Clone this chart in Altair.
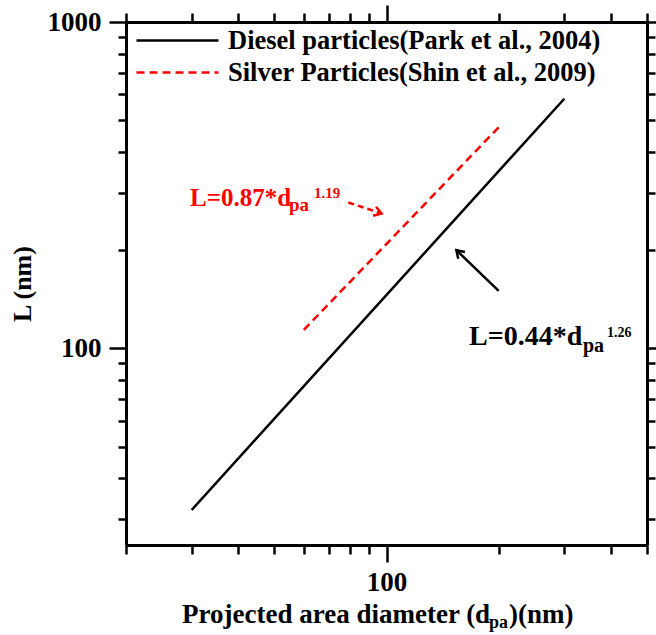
import altair as alt
import pandas as pd

# ---- data ----
series_names = ["Diesel particles(Park et al., 2004)", "Silver Particles(Shin et al., 2009)"]
diesel_dpa = [30, 300]
diesel_L = [32, 582]
silver_dpa = [60, 200]
silver_L = [114, 476]

x_ticks = [20, 30, 40, 50, 60, 70, 80, 90, 100, 200, 300, 400, 500]
y_ticks = [30, 40, 50, 60, 70, 80, 90, 100, 200, 300, 400, 500, 600, 700, 800, 900, 1000]
x_domain = [20, 500]
y_domain = [25, 1000]

# annotation arrows (tail -> tip), in data units
black_arrow_x = [200, 154]
black_arrow_y = [150, 200]
red_arrow_x = [79, 97]
red_arrow_y = [280, 259]

eq_red = ["L=0.87*d", "pa", "1.19"]
eq_black = ["L=0.44*d", "pa", "1.26"]
x_title_parts = ["Projected area diameter (d", "pa", ")(nm)"]
y_title = "L (nm)"

FONT = "Liberation Serif"
W, H = 521, 523

diesel_df = pd.DataFrame({"series": [series_names[0]] * len(diesel_dpa),
                          "dpa": diesel_dpa, "L": diesel_L})
silver_df = pd.DataFrame({"series": [series_names[1]] * len(silver_dpa),
                          "dpa": silver_dpa, "L": silver_L})

xs = alt.Scale(type="log", domain=x_domain, nice=False)
ys = alt.Scale(type="log", domain=y_domain, nice=False)

major_test_x = "datum.value == 100"
major_test_y = "datum.value == 100 || datum.value == 1000"

common_axis = dict(
    grid=False, domainColor="black", domainWidth=3, tickColor="black", tickWidth=2.5,
    labelFont=FONT, labelFontSize=27, labelFontWeight="bold", labelColor="black",
    labelOverlap=False, labelFlush=False,
    titleFont=FONT, titleFontSize=26, titleFontWeight="bold", titleColor="black",
)

x_bottom = alt.Axis(
    orient="bottom", values=x_ticks, title=None,
    labelExpr="datum.value == 100 ? '100' : ''",
    tickSize={"condition": {"test": major_test_x, "value": 17}, "value": 9},
    labelPadding=7, **common_axis)
x_top = alt.Axis(
    orient="top", values=x_ticks, title=None, labels=False,
    tickSize={"condition": {"test": major_test_x, "value": 17}, "value": 9},
    **common_axis)
y_left = alt.Axis(
    orient="left", values=y_ticks, title=y_title,
    labelExpr="(datum.value == 100 || datum.value == 1000) ? format(datum.value, 'd') : ''",
    tickSize={"condition": {"test": major_test_y, "value": 17}, "value": 8},
    labelPadding=8, titlePadding=12, **common_axis)
y_right = alt.Axis(
    orient="right", values=y_ticks, title=None, labels=False,
    tickSize={"condition": {"test": major_test_y, "value": 17}, "value": 8},
    **common_axis)

legend_common = dict(
    title=None, orient="none", legendX=9,
    symbolType="stroke", symbolSize=6724, symbolStrokeWidth=2.5,
    labelFont=FONT, labelFontSize=26.5, labelFontWeight="bold",
    labelColor="black", labelLimit=0, labelOffset=8, padding=0)

diesel_line = alt.Chart(diesel_df).mark_line(strokeWidth=2.5).encode(
    x=alt.X("dpa:Q", scale=xs, axis=x_bottom),
    y=alt.Y("L:Q", scale=ys, axis=y_left),
    color=alt.Color("series:N", scale=alt.Scale(domain=[series_names[0]], range=["black"]),
                    legend=alt.Legend(legendY=-24, symbolStrokeColor="black", **legend_common)),
)

silver_line = alt.Chart(silver_df).mark_line(strokeWidth=2.5, color="red").encode(
    x=alt.X("dpa:Q", scale=xs, axis=None),
    y=alt.Y("L:Q", scale=ys, axis=None),
    strokeDash=alt.StrokeDash("series:N",
                              scale=alt.Scale(domain=[series_names[1]], range=[[8, 5]]),
                              legend=alt.Legend(legendY=8, symbolStrokeColor="red", **legend_common)),
)

ghost = alt.Chart(diesel_df).mark_point(opacity=0).encode(
    x=alt.X("dpa:Q", scale=xs, axis=x_top),
    y=alt.Y("L:Q", scale=ys, axis=y_right),
)

black_arrow_df = pd.DataFrame({"x": [black_arrow_x[0]], "y": [black_arrow_y[0]],
                               "x2": [black_arrow_x[1]], "y2": [black_arrow_y[1]]})
red_arrow_df = pd.DataFrame({"x": [red_arrow_x[0]], "y": [red_arrow_y[0]],
                             "x2": [red_arrow_x[1]], "y2": [red_arrow_y[1]]})

def arrow(df, color, dash, angle):
    shaft = alt.Chart(df).mark_rule(color=color, strokeWidth=2.5, **({"strokeDash": dash} if dash else {})).encode(
        x=alt.X("x:Q", scale=xs, axis=None), y=alt.Y("y:Q", scale=ys, axis=None),
        x2="x2:Q", y2="y2:Q")
    head = alt.Chart(df).mark_point(
        shape="M -0.55 0.85 L 0 0 L 0.55 0.85", filled=False, color=color,
        strokeWidth=2.5, size=300, angle=angle, opacity=1).encode(
        x=alt.X("x2:Q", scale=xs, axis=None), y=alt.Y("y2:Q", scale=ys, axis=None))
    return shaft + head

def txt(s, x, y, size, color="black"):
    return alt.Chart(pd.DataFrame({"t": [s]})).mark_text(
        align="left", baseline="alphabetic", font=FONT, fontSize=size,
        fontWeight="bold", color=color).encode(
        x=alt.value(x), y=alt.value(y), text="t:N")

texts = [
    txt(eq_red[0], 64, 184, 25, "red"),
    txt(eq_red[1], 163, 189, 19, "red"),
    txt(eq_red[2], 188, 176, 15, "red"),
    txt(eq_black[0], 343, 323, 28),
    txt(eq_black[1], 457, 330, 20),
    txt(eq_black[2], 481, 315, 14),
    txt(x_title_parts[0], 56, 601, 27),
    txt(x_title_parts[1], 363, 606, 18),
    txt(x_title_parts[2], 383, 601, 27),
]

chart = alt.layer(
    diesel_line, silver_line, ghost,
    arrow(black_arrow_df, "black", None, 315),
    arrow(red_arrow_df, "red", [6, 4], 108),
    *texts,
).resolve_axis(x="independent", y="independent").resolve_legend(
    color="independent", strokeDash="independent"
).properties(
    width=W, height=H,
    autosize=alt.AutoSizeParams(type="none"),
    padding={"left": 126, "top": 22, "right": 9, "bottom": 90},
).configure_view(stroke=None).configure(background="white")

chart.save("out.html", embed_options={"renderer": "svg", "actions": False})
